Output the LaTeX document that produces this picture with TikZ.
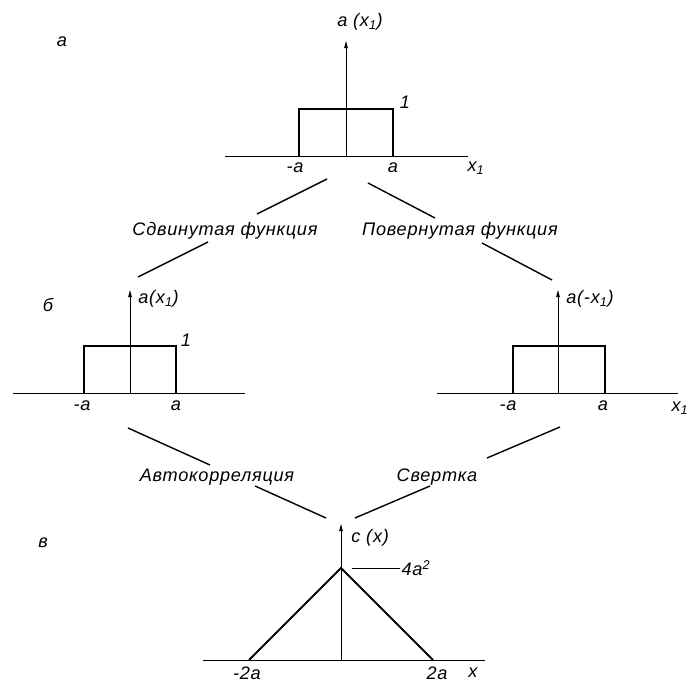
\documentclass[tikz,border=0pt]{standalone}
\usepackage{fontspec}
\setmainfont{Liberation Sans}[LetterSpace=4]
\usetikzlibrary{arrows.meta}

\begin{document}
\begin{tikzpicture}[x=0.03cm, y=-0.03cm,
  txt/.style={font=\fontsize{15.5}{17}\selectfont\itshape, inner sep=1pt},
  axis/.style={line width=0.8pt},
  yaxis/.style={line width=0.8pt, -{Latex[length=7pt, width=3.5pt]}},
  func/.style={line width=1.8pt},
  link/.style={line width=1.2pt}]
\newcommand{\Ahalf}{47} % half width of the box
\useasboundingbox (0,0) rectangle (689,685);

% panel a
\coordinate (Oa) at (346,156);
\draw[axis] (225,156) -- (468,156);
\draw[func] (Oa) ++(-\Ahalf,0) |- ++(2*\Ahalf,-47) -- ++(0,47);
\draw[yaxis] (Oa) -- (346,40);
\node[txt] (fa) at (360,22) {a (x\textsubscript{1})};
\node[txt] (la) at (62,42) {а};
\node[txt] (onea) at (405,102) {1};
\node[txt] (ma) at (295,168) {-a};
\node[txt] (pa) at (393,168) {a};
\node[txt] (xa) at (476,168) {x\textsubscript{1}};

% panel b, left
\coordinate (Ob) at (130,393);
\draw[axis] (13,393) -- (245,393);
\draw[func] (Ob) ++(-\Ahalf+1,0) |- ++(2*\Ahalf-2,-47) -- ++(0,47);
\draw[yaxis] (Ob) -- (130,289);
\node[txt, anchor=west] (fb) at (137,299) {a(x\textsubscript{1})};
\node[txt] (lb) at (48,305) {б};
\node[txt] (oneb) at (186,340) {1};
\node[txt] (mb) at (82,406) {-a};
\node[txt] (pb) at (176,406) {a};

% panel b, right
\coordinate (Or) at (558,393);
\draw[axis] (437,393) -- (678,393);
\draw[func] (Or) ++(-\Ahalf+2,0) |- ++(2*\Ahalf-2,-47) -- ++(0,47);
\draw[yaxis] (Or) -- (558,289);
\node[txt, anchor=west] (fr) at (565,299) {a(-x\textsubscript{1})};
\node[txt] (mr) at (508,406) {-a};
\node[txt] (pr) at (603,406) {a};
\node[txt] (xr) at (680,408) {x\textsubscript{1}};

% panel c
\coordinate (Oc) at (341,660);
\draw[axis] (203,660) -- (485,660);
\draw[func] (249,660) -- (341,568) coordinate (top) -- (433,660);
\draw[yaxis] (Oc) -- (341,523);
\node[txt, anchor=west] (fc) at (350,538) {c (x)};
\draw[axis] (352,568) -- (400,568) node[txt, anchor=west] (peak) {4a\textsuperscript{2}};
\node[txt] (lc) at (43,543) {в};
\node[txt] (mc) at (247,673) {-2a};
\node[txt] (pc) at (437,673) {2a};
\node[txt] (xc) at (473,673) {x};

% operations
\node[txt] (sdv) at (225,231) {Сдвинутая функция};
\node[txt] (pov) at (460,231) {Повернутая функция};
\node[txt] (auto) at (217,477) {Автокорреляция};
\node[txt] (svr) at (437,477) {Свертка};

\draw[link] (327,179) -- (257,214);
\draw[link] (208,242) -- (138,277);
\draw[link] (368,183) -- (435,218);
\draw[link] (482,243) -- (552,280);
\draw[link] (128,428) -- (210,465);
\draw[link] (255,486) -- (326,518);
\draw[link] (560,427) -- (487,458);
\draw[link] (430,486) -- (355,518);
\end{tikzpicture}
\end{document}
